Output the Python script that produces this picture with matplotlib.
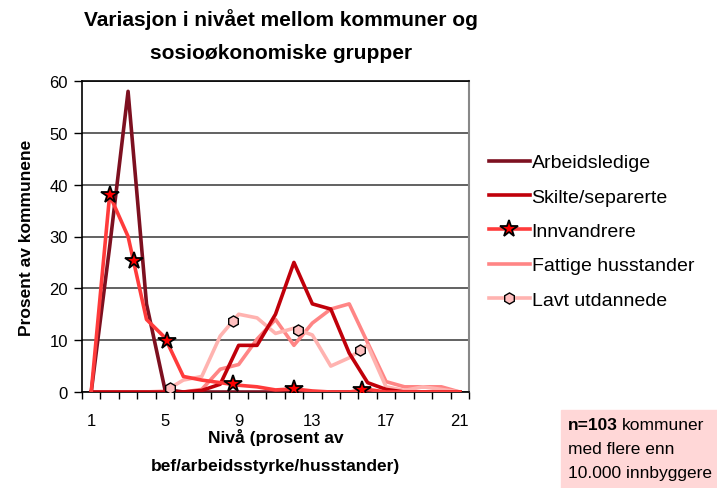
import numpy as np
import matplotlib.pyplot as plt
from matplotlib.patches import Rectangle

plt.rcParams['font.family'] = ['Liberation Sans', 'DejaVu Sans']

# ===============================
# Data
# ===============================
nivaa = np.arange(1, 22)
tick_labels = ["1", "5", "9", "13", "17", "21"]

arbeidsledige = [0, 28, 58, 17, 0.5, 0, 0, 0, 0, 0, 0, 0, 0, 0, 0, 0, 0, 0, 0, 0, 0]
skilte = [0, 0, 0, 0, 0, 0, 0.3, 1.5, 9, 9, 15, 25, 17, 16, 7.5, 1.8, 0.5, 0, 0, 0, 0]
innvandrere = [0, 38, 30, 14, 10.5, 3, 2.3, 1.8, 1.3, 1, 0.4, 0.6, 0.2, 0, 0, 0.5, 0, 0, 0, 0, 0]
fattige = [0, 0, 0, 0, 0, 0, 0.5, 4.4, 5.3, 10.2, 14, 9, 13.3, 16, 17, 9.5, 2, 1, 1, 1, 0]
lavt = [0, 0, 0, 0, 0.2, 2.3, 3, 10.8, 15, 14.3, 11.3, 12.3, 11, 5, 6.6, 9, 1, 0.3, 1, 0.5, 0]

# marker positions along the lines (x)
innv_markers = [2.0, 3.3, 5.1, 8.7, 12.0, 15.7]
lavt_markers = [5.3, 8.7, 12.2, 15.6]

# ===============================
# Figur
# ===============================
fig = plt.figure(figsize=(7.17, 4.89), dpi=100)
ax = fig.add_axes([82 / 717, 1 - 393 / 489, 387 / 717, 311 / 489])

lw = 2.6
ax.plot(nivaa, arbeidsledige, color="#7d1020", lw=lw, label="Arbeidsledige", zorder=3)
ax.plot(nivaa, skilte, color="#c0000a", lw=lw, label="Skilte/separerte", zorder=3)
ax.plot(nivaa, innvandrere, color="#ff3b3b", lw=lw, zorder=4)
ax.plot(nivaa, fattige, color="#ff8585", lw=lw, label="Fattige husstander", zorder=2)
ax.plot(nivaa, lavt, color="#ffb3b0", lw=lw, zorder=2)

ax.plot(innv_markers, np.interp(innv_markers, nivaa, innvandrere), ls="none",
        marker="*", ms=13, mfc="#ff0000", mec="black", mew=1.3, zorder=5)
ax.plot(lavt_markers, np.interp(lavt_markers, nivaa, lavt), ls="none",
        marker="h", ms=8, mfc="#ffc0c0", mec="black", mew=1.0, zorder=5)

# legend handles (line + marker)
h_innv, = ax.plot([], [], color="#ff3b3b", lw=lw, marker="*", ms=13,
                  mfc="#ff0000", mec="black", mew=1.3, label="Innvandrere")
h_lavt, = ax.plot([], [], color="#ffb3b0", lw=lw, marker="h", ms=8,
                  mfc="#ffc0c0", mec="black", mew=1.0, label="Lavt utdannede")

handles, labels = ax.get_legend_handles_labels()
order = ["Arbeidsledige", "Skilte/separerte", "Innvandrere", "Fattige husstander", "Lavt utdannede"]
hmap = dict(zip(labels, handles))
leg = fig.legend([hmap[o] for o in order], order, loc="upper left",
                 bbox_to_anchor=(481 / 717, 1 - 147 / 489), frameon=False,
                 fontsize=14, handlelength=2.1, handletextpad=0.1,
                 labelspacing=0.86, borderaxespad=0)

# ===============================
# Akser
# ===============================
ax.set_xlim(0.5, 21.5)
ax.set_ylim(0, 60)
ax.set_yticks(range(0, 61, 10))
ax.set_xticks([1, 5, 9, 13, 17, 21])
ax.set_xticklabels(tick_labels)
ax.set_xticks(np.arange(0.5, 22, 1), minor=True)
ax.tick_params(axis="x", which="major", length=0, pad=15, labelsize=12)
ax.tick_params(axis="x", which="minor", length=5, direction="out", width=1)
ax.tick_params(axis="y", length=6, width=1, pad=4, labelsize=12)

ax.grid(axis="y", color="#555555", lw=1.3)
ax.set_axisbelow(True)
ax.spines["right"].set_color("#888888")
ax.spines["right"].set_linewidth(1.5)
for s in ["left", "bottom", "top"]:
    ax.spines[s].set_linewidth(1.2)

ax.set_ylabel("Prosent av kommunene", fontsize=12.5, fontweight="bold", labelpad=11)
ax.set_xlabel("Nivå (prosent av\nbef/arbeidsstyrke/husstander)", fontsize=12.5,
              fontweight="bold", linespacing=2.1, labelpad=0)

fig.text(281 / 717, 1 - 36 / 489, "Variasjon i nivået mellom kommuner og\nsosioøkonomiske grupper",
         ha="center", va="center", fontsize=15, fontweight="bold", linespacing=1.9)

# ===============================
# Boks med n
# ===============================
fig.patches.append(Rectangle((561 / 717, 0), 1 - 561 / 717, 78 / 489,
                             transform=fig.transFigure, color="#ffd7d7", zorder=0))
t1 = fig.text(568 / 717, 1 - 426 / 489, "n=103", fontsize=12.5, fontweight="bold", va="center")
fig.canvas.draw()
bb = t1.get_window_extent()
fig.text((bb.x1 + 4) / fig.bbox.width, 1 - 426 / 489, "kommuner", fontsize=12.5, va="center")
fig.text(568 / 717, 1 - 450 / 489, "med flere enn", fontsize=12.5, va="center")
fig.text(568 / 717, 1 - 474 / 489, "10.000 innbyggere", fontsize=12.5, va="center")

fig.savefig("out.png", dpi=100)
